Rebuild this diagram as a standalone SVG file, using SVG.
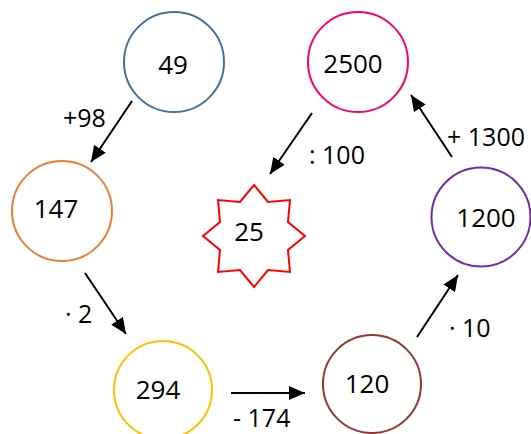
<svg xmlns="http://www.w3.org/2000/svg" width="531" height="434" viewBox="0 0 531 434">
<style>
.n{fill:none;stroke-width:2}
.t{font-family:"Open Sans","Liberation Sans",sans-serif;font-size:26px;fill:#000;text-anchor:middle}
.l{font-family:"Open Sans","Liberation Sans",sans-serif;font-size:25px;fill:#000}
.c{stroke:#000;stroke-width:2;fill:none;marker-end:url(#ah)}
</style>
<defs>
<marker id="ah" markerUnits="userSpaceOnUse" markerWidth="16" markerHeight="14" refX="16" refY="7" orient="auto">
<path d="M0,0 L16,7 L0,14 z" fill="#000"/>
</marker>
</defs>
<rect width="531" height="434" fill="#fff"/>
<g id="connectors">
<line class="c" x1="132" y1="101" x2="91" y2="162"/>
<line class="c" x1="85" y1="273" x2="126" y2="334"/>
<line class="c" x1="231" y1="393" x2="305" y2="393"/>
<line class="c" x1="417" y1="337" x2="458" y2="275"/>
<line class="c" x1="452" y1="157" x2="411" y2="95"/>
<line class="c" x1="312" y1="113" x2="270" y2="174"/>
<text class="l" x="63" y="127">+98</text>
<text class="l" x="65" y="323">· 2</text>
<text class="l" x="233" y="427">- 174</text>
<text class="l" x="449" y="337">· 10</text>
<text class="l" x="447" y="146">+ 1300</text>
<text class="l" x="309" y="164">: 100</text>
</g>
<g id="n49"><circle class="n" cx="174" cy="62" r="50" stroke="#41719C"/><text class="t" x="173" y="74">49</text></g>
<g id="n147"><circle class="n" cx="62" cy="211" r="50" stroke="#ED7D31"/><text class="t" x="56" y="218">147</text></g>
<g id="n294"><circle class="n" cx="163" cy="390" r="49" stroke="#FFC000"/><text class="t" x="158" y="399">294</text></g>
<g id="n120"><circle class="n" cx="372" cy="384" r="49" stroke="#943634"/><text class="t" x="367" y="393">120</text></g>
<g id="n1200"><circle class="n" cx="481" cy="217" r="49.5" stroke="#7030A0"/><text class="t" x="486" y="227">1200</text></g>
<g id="n2500"><circle class="n" cx="358" cy="62" r="50" stroke="#FF0066"/><text class="t" x="353" y="73">2500</text></g>
<g id="n25"><polygon class="n" stroke="#FF0000" points="254,185 268,202 290,200 288,222 305,236 288,250 290,272 268,270 254,287 240,270 218,272 220,250 203,236 220,222 218,200 240,202"/><text class="t" x="249" y="241">25</text></g>
</svg>
